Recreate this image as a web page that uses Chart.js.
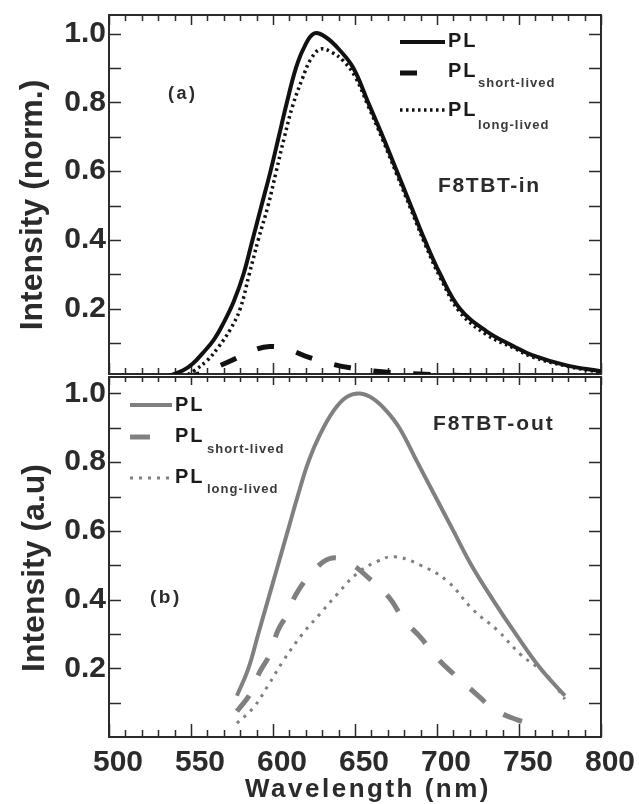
<!DOCTYPE html>
<html>
<head>
<meta charset="utf-8">
<script src="https://cdn.jsdelivr.net/npm/chart.js@4.4.1/dist/chart.umd.min.js"></script>
<style>
  html, body { margin: 0; padding: 0; background: #fff; }
  #wrap { position: relative; width: 639px; height: 804px; overflow: hidden; }
  canvas { position: absolute; left: 0; }
  #topChart { top: 0; }
  #botChart { top: 360px; }
</style>
</head>
<body>
<div id="wrap">
  <canvas id="topChart" width="639" height="380"></canvas>
  <canvas id="botChart" width="639" height="444"></canvas>
</div>
<script>
'use strict';

// --- (a) F8TBT-in ---
const wlInPL  = [537, 545, 551, 557, 564, 570, 576, 582, 587.5, 593, 598.5, 603.5, 608.5, 614, 619, 625, 632, 641, 649, 658, 667, 675.5, 684, 692.5, 702, 714, 730, 747, 758, 779, 800];
const inPL    = [0.005, 0.02, 0.04, 0.07, 0.11, 0.16, 0.22, 0.3, 0.4, 0.5, 0.6, 0.7, 0.8, 0.9, 0.96, 1.0, 0.99, 0.95, 0.9, 0.8, 0.7, 0.6, 0.5, 0.4, 0.3, 0.2, 0.135, 0.09, 0.065, 0.035, 0.018];
const wlInShort = [545, 555, 563, 575, 586, 598, 610, 622, 635, 647, 663, 689, 720, 760, 800];
const inShort   = [0.0, 0.01, 0.025, 0.05, 0.075, 0.09, 0.08, 0.058, 0.04, 0.028, 0.018, 0.01, 0.005, 0.002, 0.0];
const wlInLong = [545, 552, 560, 567, 574, 580, 585.5, 591, 597, 602, 607, 612, 618, 623, 629, 636, 643, 650, 658, 667, 675.5, 684, 692.5, 702, 714, 730, 747, 758, 779, 800];
const inLong   = [0.0, 0.02, 0.05, 0.09, 0.14, 0.2, 0.3, 0.4, 0.5, 0.6, 0.7, 0.79, 0.87, 0.925, 0.955, 0.945, 0.92, 0.875, 0.79, 0.69, 0.59, 0.49, 0.39, 0.29, 0.19, 0.125, 0.085, 0.06, 0.033, 0.015];

// --- (b) F8TBT-out ---
const wlOutPL = [578, 585, 591, 597, 603, 609, 615, 621.5, 628.6, 637, 645, 653, 661, 669, 677, 688, 699, 710, 721, 734, 748, 763, 778];
const outPL   = [0.12, 0.2, 0.3, 0.4, 0.5, 0.6, 0.7, 0.8, 0.88, 0.95, 0.99, 1.0, 0.985, 0.95, 0.9, 0.8, 0.7, 0.6, 0.5, 0.4, 0.3, 0.2, 0.12];
const wlOutShort = [578, 586, 592, 598, 603, 609, 614, 623, 635, 647, 659, 671, 680, 690, 700, 711, 724, 735, 749, 760];
const outShort   = [0.075, 0.125, 0.19, 0.24, 0.31, 0.36, 0.415, 0.474, 0.52, 0.505, 0.46, 0.405, 0.34, 0.29, 0.23, 0.18, 0.125, 0.08, 0.05, 0.035];
const wlOutLong = [578, 588, 597, 606, 618, 629, 639, 651, 663, 674, 690, 706, 722, 737, 751, 767, 778];
const outLong   = [0.04, 0.085, 0.15, 0.22, 0.3, 0.36, 0.415, 0.475, 0.51, 0.525, 0.5, 0.455, 0.37, 0.31, 0.24, 0.18, 0.11];

// --- axes ---
const xTickValues = [500, 550, 600, 650, 700, 750, 800];
const yTickValues = [0.2, 0.4, 0.6, 0.8, 1.0];

const FONT = '"Liberation Sans", Arial, sans-serif';
const INK = '#2b2b2b';
const BLACK = '#111';
const GREY = '#808080';

const pts = (xs, ys) => xs.map((x, i) => ({ x, y: ys[i] }));

function drawText(ctx, str, x, y, size, spacing, opts = {}) {
  ctx.save();
  ctx.font = `bold ${size}px ${FONT}`;
  ctx.fillStyle = opts.color || INK;
  ctx.letterSpacing = spacing + 'px';
  ctx.textBaseline = opts.baseline || 'alphabetic';
  ctx.textAlign = opts.align || 'left';
  if (opts.rotate) {
    ctx.translate(x, y);
    ctx.rotate(-Math.PI / 2);
    ctx.fillText(str, 0, 0);
  } else {
    ctx.fillText(str, x, y);
  }
  ctx.restore();
}

// box + inward tick marks on all four sides
const frameTicks = {
  id: 'frameTicks',
  beforeDatasetsDraw(chart, args, o) {
    const { ctx, chartArea: a } = chart;
    const x = chart.scales.x, y = chart.scales.y;
    ctx.save();
    ctx.strokeStyle = INK;
    ctx.lineWidth = 2;
    ctx.strokeRect(a.left, a.top, a.width, a.height);
    ctx.lineWidth = 1.5;
    ctx.beginPath();
    for (let v = 500; v <= 800; v += 10) {
      const px = Math.round(x.getPixelForValue(v)) + 0.5;
      const major = v % 50 === 0;
      ctx.moveTo(px, a.bottom); ctx.lineTo(px, a.bottom - (major ? o.bottomMajor : o.bottomMinor));
      ctx.moveTo(px, a.top); ctx.lineTo(px, a.top + (major ? o.topMajor : o.topMinor));
    }
    for (let i = 1; i <= 10; i++) {
      const py = Math.round(y.getPixelForValue(i / 10)) + 0.5;
      ctx.moveTo(a.left, py); ctx.lineTo(a.left + 12, py);
      ctx.moveTo(a.right, py); ctx.lineTo(a.right - 12, py);
    }
    ctx.stroke();
    ctx.restore();
  }
};

// legend with subscripts, panel labels and axis titles
const notes = {
  id: 'notes',
  afterDatasetsDraw(chart, args, o) {
    const ctx = chart.ctx;
    o.legend.forEach((it) => {
      const ds = chart.data.datasets[it.ds];
      ctx.save();
      ctx.strokeStyle = ds.borderColor;
      ctx.lineWidth = ds.borderWidth;
      ctx.setLineDash(ds.borderDash || []);
      ctx.beginPath();
      ctx.moveTo(it.x0, it.y);
      ctx.lineTo(it.x1, it.y);
      ctx.stroke();
      ctx.restore();
      drawText(ctx, 'PL', o.textX, it.base, 20, 2, { color: '#1a1a1a' });
      if (it.sub) drawText(ctx, it.sub, o.subX, it.subBase, 13, 1, { color: '#3a3a3a' });
    });
    o.texts.forEach((t) => drawText(ctx, t.str, t.x, t.y, t.size, t.spacing, t));
  }
};

function makeChart(id, sets, o) {
  return new Chart(document.getElementById(id), {
    type: 'line',
    data: { datasets: sets },
    plugins: [frameTicks, notes],
    options: {
      responsive: false,
      animation: false,
      layout: { padding: { top: o.padTop, bottom: o.padBottom, left: 0, right: 38 } },
      elements: { point: { radius: 0 }, line: { tension: 0.4, fill: false } },
      plugins: {
        legend: { display: false },
        tooltip: { enabled: false },
        frameTicks: o.ticks,
        notes: o.notes,
      },
      scales: {
        x: {
          type: 'linear',
          min: 500,
          max: 800,
          border: { display: false },
          grid: { display: false, drawTicks: false },
          afterBuildTicks: (s) => { s.ticks = xTickValues.map((v) => ({ value: v })); },
          ticks: {
            display: o.xLabels,
            padding: 8,
            labelOffset: 9,
            color: INK,
            font: { family: FONT, size: 30, weight: 'bold' },
          },
          afterFit: (s) => { s.height = o.xHeight; s.paddingLeft = 0; s.paddingRight = 0; },
        },
        y: {
          min: o.yMin,
          max: o.yMax,
          border: { display: false },
          grid: { display: false, drawTicks: false },
          afterBuildTicks: (s) => { s.ticks = yTickValues.map((v) => ({ value: v })); },
          ticks: {
            padding: 3,
            color: INK,
            font: { family: FONT, size: 30, weight: 'bold' },
            callback: (v) => v.toFixed(1),
          },
          afterFit: (s) => { s.width = 109; s.paddingTop = 0; s.paddingBottom = 0; },
        },
      },
    },
  });
}

// (a) top panel
makeChart('topChart', [
  { label: 'PL', data: pts(wlInPL, inPL), borderColor: BLACK, borderWidth: 4 },
  { label: 'PL short-lived', data: pts(wlInShort, inShort), borderColor: BLACK, borderWidth: 5, borderDash: [17, 23] },
  { label: 'PL long-lived', data: pts(wlInLong, inLong), borderColor: BLACK, borderWidth: 3.5, borderDash: [2.5, 3.5] },
], {
  padTop: 15, padBottom: 6, xHeight: 0, xLabels: false, yMin: 0.01, yMax: 1.054,
  ticks: { topMajor: 10, topMinor: 6, bottomMajor: 11, bottomMinor: 6 },
  notes: {
    textX: 448, subX: 478,
    legend: [
      { ds: 0, x0: 400, x1: 445, y: 42, base: 47 },
      { ds: 1, x0: 400, x1: 418, y: 73, base: 77, sub: 'short-lived', subBase: 87 },
      { ds: 2, x0: 400, x1: 445, y: 110, base: 116, sub: 'long-lived', subBase: 129 },
    ],
    texts: [
      { str: '(a)', x: 168, y: 99, size: 18, spacing: 2.5 },
      { str: 'F8TBT-in', x: 438, y: 192, size: 21, spacing: 1.6 },
      { str: 'Intensity (norm.)', x: 33, y: 205, size: 32, spacing: 0, rotate: true, align: 'center', baseline: 'middle' },
    ],
  },
});

// (b) bottom panel
makeChart('botChart', [
  { label: 'PL', data: pts(wlOutPL, outPL), borderColor: GREY, borderWidth: 4 },
  { label: 'PL short-lived', data: pts(wlOutShort, outShort), borderColor: GREY, borderWidth: 5, borderDash: [20, 22] },
  { label: 'PL long-lived', data: pts(wlOutLong, outLong), borderColor: GREY, borderWidth: 3, borderDash: [3, 6] },
], {
  padTop: 17, padBottom: 0, xHeight: 67, xLabels: true, yMin: 0, yMax: 1.048,
  ticks: { topMajor: 8, topMinor: 5, bottomMajor: 13, bottomMinor: 7 },
  notes: {
    textX: 175, subX: 207,
    legend: [
      { ds: 0, x0: 130, x1: 172, y: 45, base: 51 },
      { ds: 1, x0: 130, x1: 150, y: 77, base: 82, sub: 'short-lived', subBase: 93 },
      { ds: 2, x0: 130, x1: 173, y: 118, base: 123, sub: 'long-lived', subBase: 133 },
    ],
    texts: [
      { str: '(b)', x: 150, y: 243, size: 19, spacing: 2.5 },
      { str: 'F8TBT-out', x: 433, y: 70, size: 21, spacing: 2 },
      { str: 'Intensity (a.u)', x: 35, y: 208, size: 32, spacing: 0, rotate: true, align: 'center', baseline: 'middle' },
      { str: 'Wavelength (nm)', x: 368, y: 437, size: 26, spacing: 2.5, align: 'center' },
    ],
  },
});
</script>
</body>
</html>
